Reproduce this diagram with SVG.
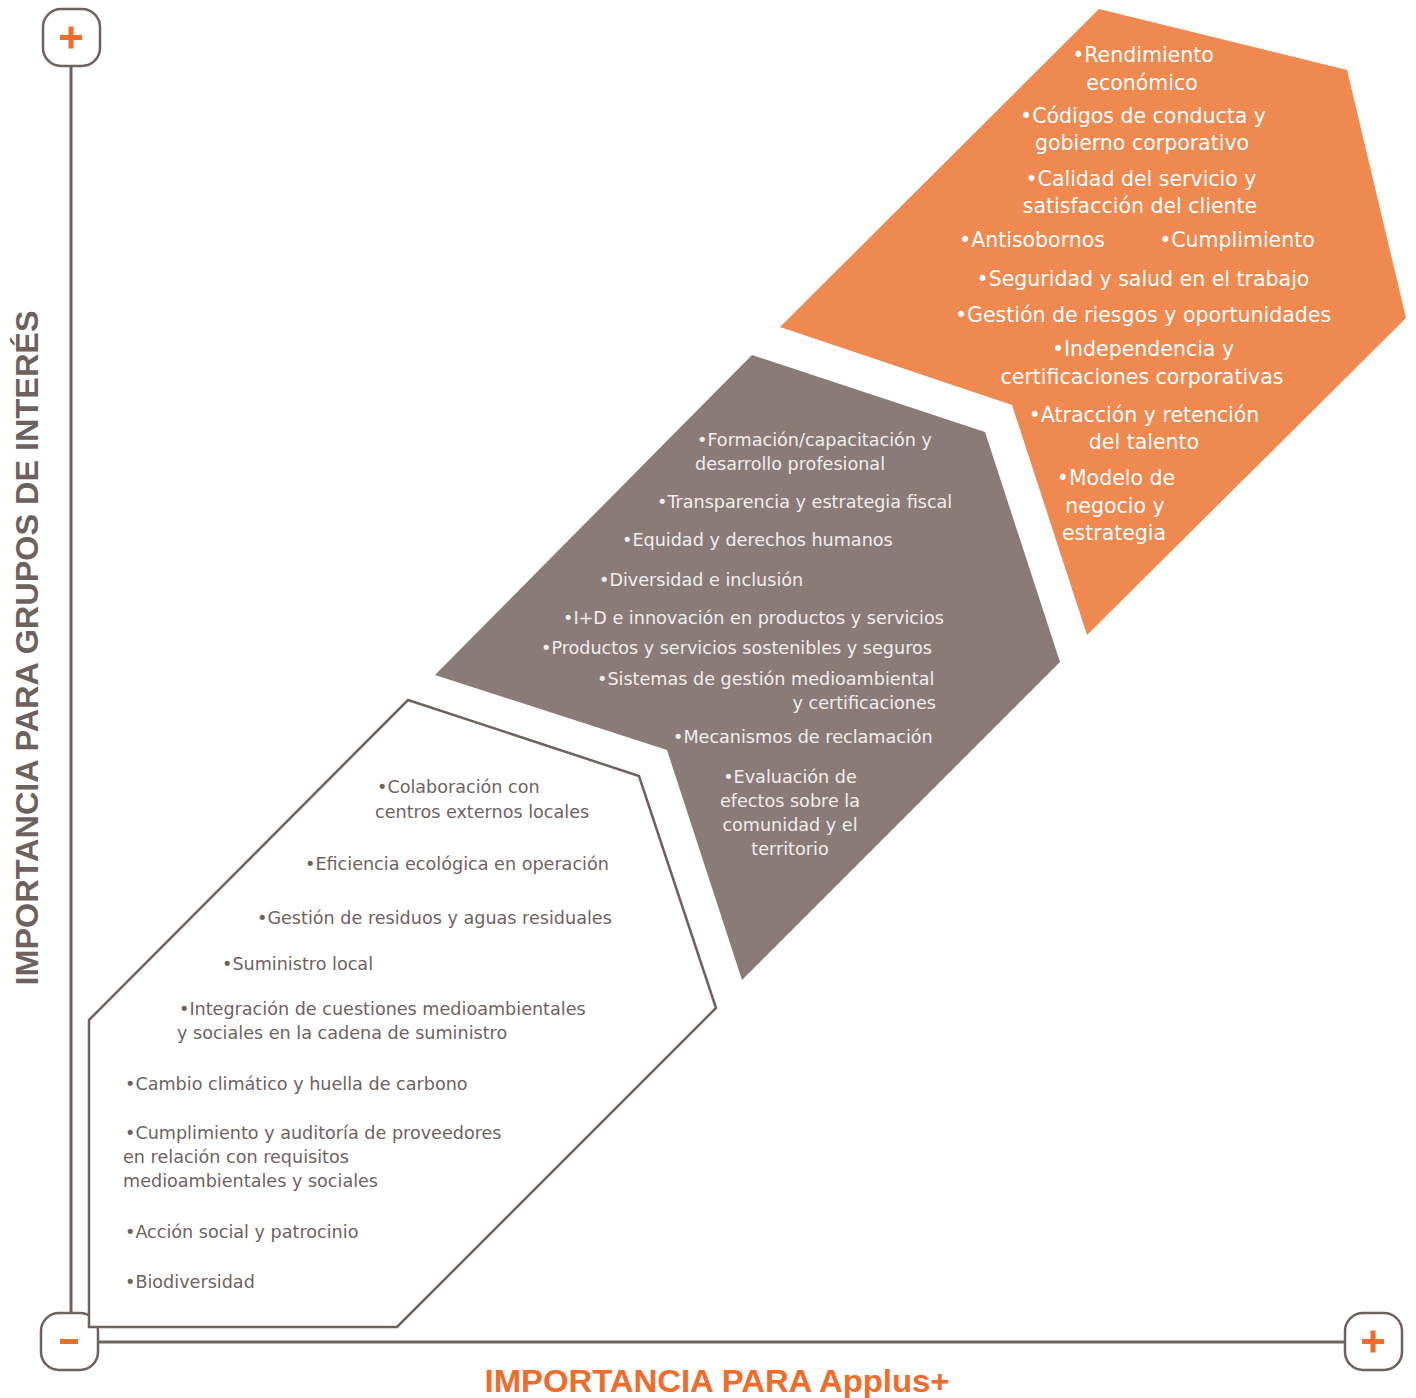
<svg xmlns="http://www.w3.org/2000/svg" width="1416" height="1398" viewBox="0 0 1416 1398">
<style>
.axis{stroke:#6E625F;stroke-width:3;fill:none}
.cap{fill:#fff;stroke:#6E625F;stroke-width:2.5}
.sign{stroke:#F26B2B;stroke-width:5;fill:none}
.ot{font-family:"DejaVu Sans","Liberation Sans",sans-serif;font-size:20.5px;fill:#fff;text-anchor:middle}
.gt{font-family:"DejaVu Sans","Liberation Sans",sans-serif;font-size:17.6px;fill:#F1EEEE}
.wt{font-family:"DejaVu Sans","Liberation Sans",sans-serif;font-size:17.6px;fill:#6E625F}
.lab{font-family:"Liberation Sans",Arial,sans-serif;font-weight:bold;font-size:32px}
</style>
<rect width="1416" height="1398" fill="#fff"/>
<g id="axes">
<line class="axis" x1="71" y1="66" x2="71" y2="1314"/>
<line class="axis" x1="97" y1="1342" x2="1345" y2="1342"/>
<g id="cap-top"><rect class="cap" x="43" y="9" width="57" height="57" rx="18"/><path class="sign" d="M60 37.5H82M71 26.5V48.5"/></g>
<g id="cap-origin"><rect class="cap" x="41" y="1313" width="57" height="57" rx="18"/><path class="sign" d="M60 1341.5H78"/></g>
<g id="cap-right"><rect class="cap" x="1345" y="1313" width="57" height="57" rx="18"/><path class="sign" d="M1362 1341.5H1384M1373 1330.5V1352.5"/></g>
<text class="lab" fill="#6E625F" text-anchor="middle" transform="translate(38,648) rotate(-90)" textLength="675" lengthAdjust="spacingAndGlyphs">IMPORTANCIA PARA GRUPOS DE INTERÉS</text>
<text class="lab" fill="#F26B2B" x="717" y="1392" text-anchor="middle" textLength="465" lengthAdjust="spacingAndGlyphs">IMPORTANCIA PARA Applus+</text>
</g>
<g id="connectors"></g>
<g id="node-high">
<polygon points="1099,9 1347,70 1406,318 1087,635 1012,405 780,327" fill="#F0894F"/>
<text class="ot" x="1143" y="62">•Rendimiento</text>
<text class="ot" x="1142" y="90">económico</text>
<text class="ot" x="1143" y="123">•Códigos de conducta y</text>
<text class="ot" x="1142" y="150">gobierno corporativo</text>
<text class="ot" x="1141" y="186">•Calidad del servicio y</text>
<text class="ot" x="1140" y="213">satisfacción del cliente</text>
<text class="ot" x="1032" y="247">•Antisobornos</text>
<text class="ot" x="1237" y="247">•Cumplimiento</text>
<text class="ot" x="1143" y="286">•Seguridad y salud en el trabajo</text>
<text class="ot" x="1143" y="322">•Gestión de riesgos y oportunidades</text>
<text class="ot" x="1143" y="356">•Independencia y</text>
<text class="ot" x="1142" y="384">certificaciones corporativas</text>
<text class="ot" x="1144" y="422">•Atracción y retención</text>
<text class="ot" x="1144" y="449">del talento</text>
<text class="ot" x="1116" y="485">•Modelo de</text>
<text class="ot" x="1115" y="513">negocio y</text>
<text class="ot" x="1114" y="540">estrategia</text>
</g>
<g id="node-medium">
<polygon points="752,355 985,432 1060,662 742,980 667,750 435,675" fill="#8A7B79"/>
<text class="gt" x="697" y="446">•Formación/capacitación y</text>
<text class="gt" x="695" y="470">desarrollo profesional</text>
<text class="gt" x="657" y="508">•Transparencia y estrategia fiscal</text>
<text class="gt" x="622" y="546">•Equidad y derechos humanos</text>
<text class="gt" x="599" y="586">•Diversidad e inclusión</text>
<text class="gt" x="563" y="624">•I+D e innovación en productos y servicios</text>
<text class="gt" x="541" y="654">•Productos y servicios sostenibles y seguros</text>
<text class="gt" x="597" y="685">•Sistemas de gestión medioambiental</text>
<text class="gt" x="936" y="709" text-anchor="end">y certificaciones</text>
<text class="gt" x="673" y="743">•Mecanismos de reclamación</text>
<text class="gt" x="790" y="783" text-anchor="middle">•Evaluación de</text>
<text class="gt" x="790" y="807" text-anchor="middle">efectos sobre la</text>
<text class="gt" x="790" y="831" text-anchor="middle">comunidad y el</text>
<text class="gt" x="790" y="855" text-anchor="middle">territorio</text>
</g>
<g id="node-low">
<polygon points="408,700 639,776 716,1008 397,1327 89,1327 89,1020" fill="#fff" stroke="#6E625F" stroke-width="2.5"/>
<text class="wt" x="377" y="793">•Colaboración con</text>
<text class="wt" x="375" y="818">centros externos locales</text>
<text class="wt" x="305" y="870">•Eficiencia ecológica en operación</text>
<text class="wt" x="257" y="924">•Gestión de residuos y aguas residuales</text>
<text class="wt" x="222" y="970">•Suministro local</text>
<text class="wt" x="179" y="1015">•Integración de cuestiones medioambientales</text>
<text class="wt" x="177" y="1039">y sociales en la cadena de suministro</text>
<text class="wt" x="125" y="1090">•Cambio climático y huella de carbono</text>
<text class="wt" x="125" y="1139">•Cumplimiento y auditoría de proveedores</text>
<text class="wt" x="123" y="1163">en relación con requisitos</text>
<text class="wt" x="123" y="1187">medioambientales y sociales</text>
<text class="wt" x="125" y="1238">•Acción social y patrocinio</text>
<text class="wt" x="125" y="1288">•Biodiversidad</text>
</g>
</svg>
